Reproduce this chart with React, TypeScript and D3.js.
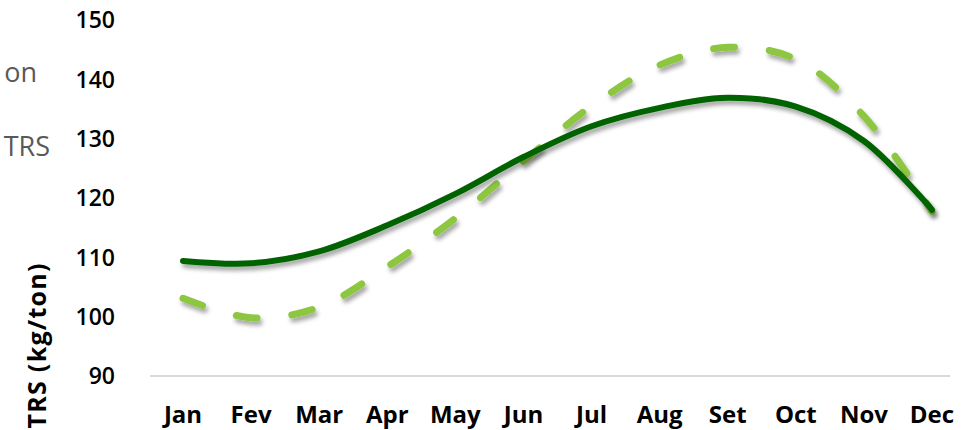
import React from "react";
import * as d3 from "d3";

const months = ["Jan", "Fev", "Mar", "Apr", "May", "Jun", "Jul", "Aug", "Set", "Oct", "Nov", "Dec"];
const solidSeries = [109.4, 109.0, 111.0, 115.4, 120.7, 126.9, 132.1, 135.2, 136.9, 135.4, 129.6, 118.0];
const dashedSeries = [103.1, 99.8, 101.6, 108.4, 116.6, 126.2, 135.5, 142.4, 145.4, 143.4, 133.8, 117.7];
const yTicks = [90, 100, 110, 120, 130, 140, 150];
const legendTails = ["on", "TRS"];

const W = 962;
const H = 430;
const FONT = "'Open Sans', 'Noto Sans', sans-serif";

export default function App() {
  const x = d3.scalePoint<string>().domain(months).range([183, 932]);
  const y = d3.scaleLinear().domain([90, 150]).range([376, 20]);
  const line = d3
    .line<number>()
    .x((_, i) => x(months[i]) as number)
    .y((d) => y(d))
    .curve(d3.curveCatmullRom.alpha(0.5));

  return (
    <svg
      width={W}
      height={H}
      style={{ position: "absolute", left: 0, top: 0, background: "#fff" }}
      fontFamily={FONT}
    >
      <defs>
        <filter id="sh" x="-10%" y="-10%" width="120%" height="130%">
          <feDropShadow dx="2" dy="4" stdDeviation="2" floodColor="#000" floodOpacity="0.35" />
        </filter>
      </defs>
      <rect width={W} height={H} fill="#fff" />
      <line x1={150} x2={950} y1={y(90)} y2={y(90)} stroke="#d9d9d9" strokeWidth={2} />
      {yTicks.map((t) => (
        <text key={t} x={115} y={y(t)} dy="0.36em" textAnchor="end" fontSize={23} fontWeight={600} fill="#000">
          {t}
        </text>
      ))}
      {months.map((m) => (
        <text key={m} x={x(m)} y={414} dy="0.36em" textAnchor="middle" fontSize={24} fontWeight={700} fill="#000">
          {m}
        </text>
      ))}
      <text
        transform={`translate(37, 346) rotate(-90)`}
        textAnchor="middle"
        dy="0.36em"
        fontSize={25}
        fontWeight={700}
        fill="#000"
        textLength={165}
        lengthAdjust="spacing"
      >
        TRS (kg/ton)
      </text>
      <text x={37} y={72} dy="0.36em" textAnchor="end" fontSize={27} fill="#595959">
        {legendTails[0]}
      </text>
      <text x={50} y={146} dy="0.36em" textAnchor="end" fontSize={27} fill="#595959">
        {legendTails[1]}
      </text>
      <path
        d={line(dashedSeries) || ""}
        fill="none"
        stroke="#8dc63f"
        strokeWidth={7}
        strokeLinecap="round"
        strokeDasharray="21 35"
        filter="url(#sh)"
      />
      <path
        d={line(solidSeries) || ""}
        fill="none"
        stroke="#006400"
        strokeWidth={6}
        strokeLinecap="round"
        filter="url(#sh)"
      />
    </svg>
  );
}
